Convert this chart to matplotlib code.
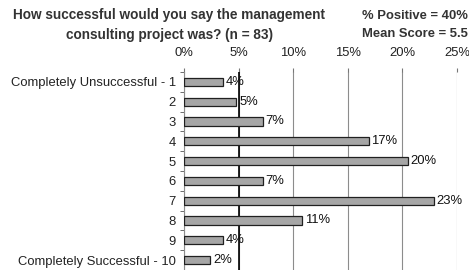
#!/usr/bin/env python3
"""Horizontal bar chart of project success ratings"""

import matplotlib
matplotlib.use("Agg")
import matplotlib.pyplot as plt
from matplotlib import rcParams
rcParams['font.family'] = ['Liberation Sans', 'DejaVu Sans']

#--- data
categories = ["Completely Unsuccessful - 1", "2", "3", "4", "5",
              "6", "7", "8", "9", "Completely Successful - 10"]
percent = [3.6, 4.8, 7.2, 16.9, 20.5, 7.2, 22.9, 10.8, 3.6, 2.4]
bar_labels = ["4%", "5%", "7%", "17%", "20%", "7%", "23%", "11%", "4%", "2%"]
xticks = [0, 5, 10, 15, 20, 25]
title = "How successful would you say the management\nconsulting project was? (n = 83)"
stats = "% Positive = 40%\nMean Score = 5.5"


def main():
    fig = plt.figure(figsize=(4.69, 2.70), dpi=100)
    ax = fig.add_axes([184 / 469, 0.0, (457 - 184) / 469, 198 / 270])

    fs = 9.4
    ypos = list(range(len(categories)))
    ax.barh(ypos, percent, height=0.42, color='#a6a6a6',
            edgecolor='#202020', linewidth=0.9, zorder=3)
    for y, v, lbl in zip(ypos, percent, bar_labels):
        ax.text(v + 0.25, y, lbl, va='center', ha='left', fontsize=fs,
                color='#111111', zorder=4)

    ax.set_xlim(0, 25)
    ax.set_ylim(len(categories) - 0.5, -0.5)
    ax.set_yticks(ypos)
    ax.set_yticklabels(categories, fontsize=fs, color='#222222')
    ax.set_yticks([i - 0.5 for i in range(len(categories) + 1)], minor=True)
    ax.tick_params(axis='y', which='major', length=0, pad=6)
    ax.tick_params(axis='y', which='minor', length=3, color='#555555')

    ax.xaxis.tick_top()
    ax.set_xticks(xticks)
    ax.set_xticklabels(["%d%%" % t for t in xticks], fontsize=fs, color='#222222')
    ax.tick_params(axis='x', length=3, color='#777777', pad=6)
    ax.xaxis.grid(True, color='#8c8c8c', linewidth=0.8, zorder=0)
    ax.axvline(5, color='black', linewidth=1.2, zorder=2)

    for s in ['top', 'bottom', 'right']:
        ax.spines[s].set_visible(False)
    ax.spines['left'].set_color('#8c8c8c')

    fig.text(169 / 469, 1 - 25 / 270, title, ha='center', va='center',
             fontsize=9.8, fontweight='bold', color='#333333', linespacing=1.5)
    fig.text(468 / 469, 1 - 25 / 270, stats, ha='right', va='center',
             fontsize=9.4, fontweight='bold', color='#333333', linespacing=1.65)

    fig.savefig("out.png", dpi=100)


if __name__ == "__main__":
    main()
